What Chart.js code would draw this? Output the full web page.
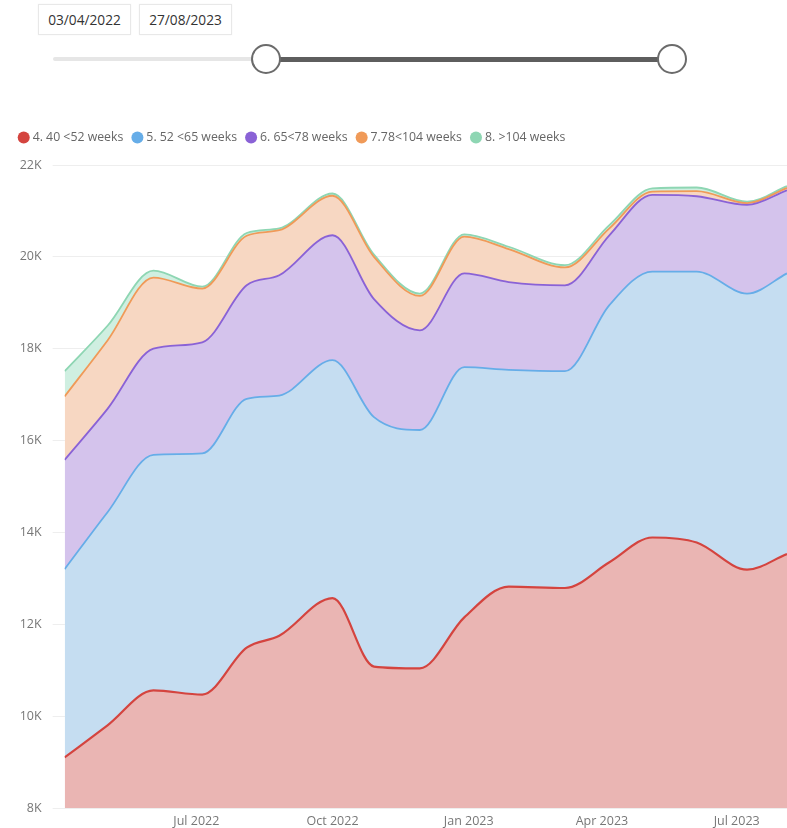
<!DOCTYPE html>
<html>
<head>
<meta charset="utf-8">
<script src="https://cdn.jsdelivr.net/npm/chart.js@4.4.1/dist/chart.umd.min.js"></script>
<style>
  html, body { margin: 0; padding: 0; background: #fff; }
  body { width: 787px; height: 828px; position: relative; overflow: hidden; font-family: 'Open Sans', sans-serif; }
  .datebox { position: absolute; top: 4px; width: 91px; height: 29px; border: 1px solid #E8E8E8; box-shadow: 0 0 2px rgba(0,0,0,0.04);
             font-size: 13.7px; color: #333; line-height: 29px; text-align: center; background: #fff; }
  .track-light { position: absolute; left: 53px; top: 57px; width: 205px; height: 4px; background: #E6E6E6; border-radius: 2px; }
  .track-dark { position: absolute; left: 266px; top: 56.5px; width: 406px; height: 5px; background: #5E5E5E; }
  .handle { position: absolute; top: 43.5px; width: 26px; height: 26px; border: 2.5px solid #6B6B6B; border-radius: 50%; background: #fff; }
  #wrap { position: absolute; left: 0; top: 120px; width: 787px; height: 714px; }
</style>
</head>
<body>
<div class="datebox" style="left:38px">03/04/2022</div>
<div class="datebox" style="left:139px">27/08/2023</div>
<div class="track-light"></div>
<div class="track-dark"></div>
<div class="handle" style="left:251px"></div>
<div class="handle" style="left:657px"></div>
<div id="wrap"><canvas id="c" width="787" height="714"></canvas></div>
<script>
// ---- data ----
const dates = ['2022-04-03','2022-05-02','2022-06-02','2022-07-05','2022-08-04','2022-08-26','2022-10-01',
               '2022-10-29','2022-11-29','2022-12-29','2023-01-28','2023-03-07','2023-04-06','2023-05-05',
               '2023-06-04','2023-07-08','2023-08-04'];
const seriesNames = ['4. 40 <52 weeks', '5. 52 <65 weeks', '6. 65<78 weeks', '7.78<104 weeks', '8. >104 weeks'];
const w40_52  = [9100, 9800, 10560, 10470, 11490, 11750, 12570, 11080, 11040, 12150, 12820, 12790, 13350, 13890, 13780, 13190, 13530];
const w52_65  = [4100, 4640, 5130, 5250, 5420, 5230, 5180, 5430, 5190, 5450, 4720, 4720, 5600, 5790, 5900, 6010, 6110];
const w65_78  = [2380, 2250, 2310, 2420, 2470, 2620, 2720, 2570, 2170, 2040, 1910, 1870, 1520, 1670, 1640, 1930, 1810];
const w78_104 = [1380, 1490, 1550, 1170, 1080, 980, 860, 920, 750, 800, 720, 390, 150, 70, 110, 40, 50];
const w104    = [550, 320, 150, 40, 60, 40, 50, 50, 50, 50, 50, 50, 70, 70, 80, 30, 40];
const tickDates  = ['2022-07-01', '2022-10-01', '2023-01-01', '2023-04-01', '2023-07-01'];
const tickLabels = ['Jul 2022', 'Oct 2022', 'Jan 2023', 'Apr 2023', 'Jul 2023'];
const yTicks = [8000, 10000, 12000, 14000, 16000, 18000, 20000, 22000];

// ---- helpers ----
function dayNum(s) { const p = s.split('-').map(Number); return Date.UTC(p[0], p[1] - 1, p[2]) / 864e5; }
const xs = dates.map(dayNum);
const tickXs = tickDates.map(dayNum);
const lineColors = ['#D4443F', '#66ADE8', '#8A62D6', '#F09A58', '#8ED6B3'];
const fillColors = ['#EAB5B3', '#C5DDF1', '#D4C3EC', '#F7D7C2', '#CFEFE1'];
const allSeries = [w40_52, w52_65, w65_78, w78_104, w104];

const datasets = allSeries.map((vals, i) => ({
  label: seriesNames[i],
  data: vals.map((v, j) => ({ x: xs[j], y: v })),
  borderColor: lineColors[i],
  backgroundColor: fillColors[i],
  borderWidth: i === 0 ? 2.2 : 1.8,
  fill: i === 0 ? 'start' : '-1',
  pointRadius: 0,
  pointHoverRadius: 0,
  cubicInterpolationMode: 'monotone'
}));

Chart.defaults.font.family = "'Open Sans', sans-serif";

const legendHeight = {
  id: 'legendHeight',
  beforeLayout(chart) {
    const lg = chart.legend;
    if (lg && !lg._patched) {
      const f = lg.fit;
      lg.fit = function () { f.call(this); this.height = 45; };
      lg._patched = true;
    }
  }
};

new Chart(document.getElementById('c'), {
  type: 'line',
  data: { datasets },
  plugins: [legendHeight],
  options: {
    responsive: false,
    animation: false,
    layout: { padding: { left: 9.6, right: 0, top: 0, bottom: 0 } },
    plugins: {
      tooltip: { enabled: false },
      legend: {
        display: true,
        position: 'top',
        align: 'start',
        labels: {
          usePointStyle: true,
          pointStyle: 'circle',
          boxWidth: 5.6,
          boxHeight: 8.5,
          padding: 11.3,
          color: '#666',
          font: { size: 12.3 },
          generateLabels(chart) {
            return chart.data.datasets.map((ds, i) => ({
              text: ds.label,
              fillStyle: ds.borderColor,
              strokeStyle: ds.borderColor,
              lineWidth: 0,
              pointStyle: 'circle',
              datasetIndex: i,
              hidden: false,
              fontColor: '#666'
            }));
          }
        }
      }
    },
    scales: {
      x: {
        type: 'linear',
        min: xs[0],
        max: xs[xs.length - 1],
        grid: { display: false, drawTicks: false },
        border: { display: false },
        ticks: {
          color: '#777',
          font: { size: 12.5 },
          padding: 5.5,
          maxRotation: 0,
          autoSkip: false,
          callback(v) { const k = tickXs.indexOf(v); return k >= 0 ? tickLabels[k] : ''; }
        },
        afterBuildTicks(scale) { scale.ticks = tickXs.map(v => ({ value: v })); },
        afterFit(scale) { scale.paddingLeft = 0; scale.paddingRight = 0; }
      },
      y: {
        stacked: true,
        min: 8000,
        max: 22000,
        z: 1,
        grid: { color: 'rgba(0,0,0,0.065)', lineWidth: 1, drawTicks: true, tickLength: 12 },
        border: { display: false },
        ticks: {
          color: '#777',
          font: { size: 12.5 },
          padding: 11,
          callback(v) { return (v / 1000) + 'K'; }
        },
        afterBuildTicks(scale) { scale.ticks = yTicks.map(v => ({ value: v })); },
        afterFit(scale) { scale.width = 55; }
      }
    }
  }
});
</script>
</body>
</html>
